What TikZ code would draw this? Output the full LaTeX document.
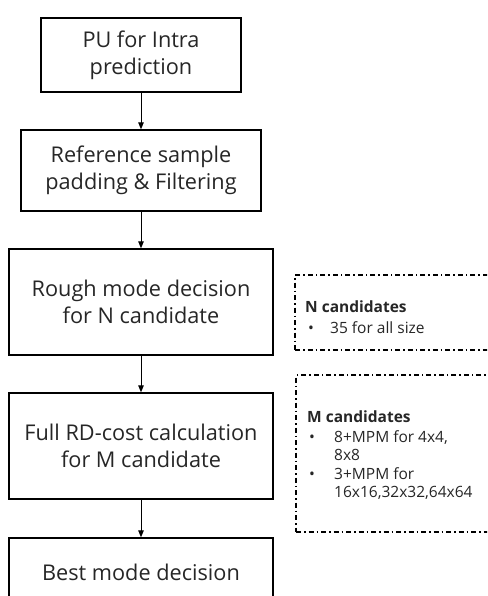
\documentclass[tikz,border=0pt]{standalone}
\usepackage{fontspec}
\setmainfont{Open Sans}
\usetikzlibrary{arrows.meta}
\begin{document}
\begin{tikzpicture}[x=1pt,y=-1pt,
  stepbox/.style={draw=black, line width=1.3pt, align=center, inner sep=0pt,
    font=\fontsize{21.7}{27}\selectfont, text=black!85},
  flow/.style={draw=black, line width=1pt, -{Triangle[length=7pt,width=5.5pt]}},
  notebox/.style={draw=black, line width=1.4pt, inner sep=0pt,
    dash pattern=on 5pt off 3pt on 1.5pt off 3pt},
  notehead/.style={anchor=base west, inner sep=0pt, text=black!85,
    font=\fontsize{15.5}{19}\selectfont\bfseries},
  notetext/.style={anchor=base west, inner sep=0pt, text=black!85,
    font=\fontsize{15.5}{19}\selectfont}]
\useasboundingbox (0,0) rectangle (487,596);
\clip (0,0) rectangle (487,596);

% main flow
\node[stepbox, minimum width=200pt, minimum height=74pt] (pu) at (141,55)
  {PU for Intra\\prediction};
\node[stepbox, minimum width=240pt, minimum height=81pt] (pad) at (141,170.5)
  {Reference sample\\padding \& Filtering};
\node[stepbox, minimum width=264pt, minimum height=106pt] (rough) at (141,302)
  {Rough mode decision\\for N candidate};
\node[stepbox, minimum width=264pt, minimum height=106pt] (full) at (141,446)
  {Full RD-cost calculation\\for M candidate};
\node[stepbox, minimum width=264pt, minimum height=68pt] (best) at (141,572)
  {Best mode decision};

\draw[flow] (pu) -- (pad);
\draw[flow] (pad) -- (rough);
\draw[flow] (rough) -- (full);
\draw[flow] (full) -- (best);

% candidate notes
\node[notebox, minimum width=215pt, minimum height=75pt] (nbox) at (402.5,312.5) {};
\node[notehead] (nhead) at (305,312) {N candidates};
\node[notetext] (nb1) at (308,333) {•};
\node[notetext] (nt1) at (330,333) {35 for all size};

\node[notebox, minimum width=214pt, minimum height=157pt] (mbox) at (403,453.5) {};
\node[notehead] (mhead) at (307,422) {M candidates};
\node[notetext] (mb1) at (309,442) {•};
\node[notetext] (mt1) at (334,442) {8+MPM for 4x4,};
\node[notetext] (mt2) at (334,460) {8x8};
\node[notetext] (mb2) at (309,479) {•};
\node[notetext] (mt3) at (334,479) {3+MPM for};
\node[notetext] (mt4) at (334,497) {16x16,32x32,64x64};
\end{tikzpicture}
\end{document}
